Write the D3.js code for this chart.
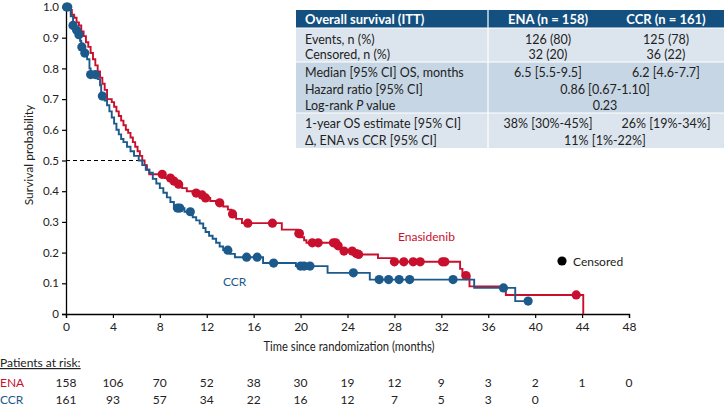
<!DOCTYPE html>
<html><head><meta charset="utf-8">
<script src="https://cdn.jsdelivr.net/npm/d3@7"></script>
<style>body{margin:0;background:#fff}svg{display:block}</style>
</head><body><svg id="c" width="724" height="408"></svg>
<script>
// ---- data ----
const enaSteps = [[0,1],[0.3,0.99],[0.5,0.975],[0.7,0.965],[0.9,0.95],[1.1,0.94],[1.3,0.92],[1.5,0.905],[1.7,0.885],[1.9,0.87],[2.1,0.85],[2.3,0.83],[2.5,0.81],[2.7,0.79],[2.9,0.77],[3.1,0.75],[3.3,0.73],[3.5,0.70],[3.9,0.69],[4.1,0.675],[4.3,0.66],[4.5,0.645],[4.7,0.63],[4.9,0.615],[5.1,0.60],[5.3,0.59],[5.5,0.575],[5.7,0.56],[5.9,0.545],[6.1,0.53],[6.3,0.515],[6.5,0.50],[6.7,0.485],[6.9,0.47],[7.1,0.455],[8.4,0.443],[9.0,0.433],[9.4,0.423],[9.9,0.41],[10.3,0.40],[10.8,0.394],[11.4,0.388],[11.8,0.378],[12.3,0.368],[12.8,0.362],[13.4,0.35],[13.8,0.34],[14.1,0.326],[14.5,0.31],[15.0,0.296],[18.4,0.275],[19.8,0.262],[20.0,0.25],[20.3,0.24],[20.5,0.232],[23.1,0.222],[23.3,0.213],[23.6,0.205],[24.7,0.197],[24.9,0.194],[26.6,0.182],[27.9,0.17],[33.6,0.147],[33.8,0.125],[34.4,0.09],[37.5,0.062],[44.1,0]];
const enaEnd = 44.1;
const enaCensor = [8.2,8.9,9.2,9.6,11.1,11.6,11.9,13.1,14.2,15.5,17.6,19.85,19.9,21.0,21.5,22.8,23.0,23.2,23.7,24.4,24.75,24.95,28.0,28.8,29.6,30.2,32.1,32.3,34.1,43.5];
const ccrSteps = [[0,1],[0.2,0.99],[0.4,0.97],[0.6,0.94],[0.8,0.925],[1.0,0.91],[1.2,0.89],[1.3,0.87],[1.5,0.85],[1.8,0.83],[2.0,0.80],[2.1,0.78],[2.7,0.765],[2.9,0.745],[3.0,0.71],[3.3,0.695],[3.5,0.68],[3.7,0.66],[3.9,0.64],[4.1,0.62],[4.3,0.60],[4.5,0.585],[4.7,0.57],[4.9,0.56],[5.2,0.545],[5.5,0.53],[5.8,0.515],[6.2,0.50],[6.5,0.485],[6.8,0.47],[7.1,0.46],[7.4,0.44],[7.7,0.425],[8.0,0.41],[8.3,0.395],[8.6,0.38],[8.9,0.365],[9.2,0.345],[10.1,0.333],[10.8,0.315],[11.1,0.305],[11.4,0.295],[11.7,0.28],[11.9,0.267],[12.2,0.255],[12.5,0.245],[12.8,0.232],[13.1,0.22],[13.4,0.208],[14.0,0.196],[14.4,0.185],[16.8,0.166],[19.6,0.156],[22.3,0.134],[25.9,0.112],[34.8,0.085],[38.3,0.042]];
const ccrEnd = 39.4;
const ccrCensor = [0.05,0.15,0.6,0.9,1.1,1.35,1.6,2.1,2.5,3.1,9.5,9.7,10.6,13.8,15.4,16.3,17.7,20.0,20.3,20.8,24.5,26.7,27.5,28.4,29.3,33.0,37.3,39.4];
const xTicks = [0,4,8,12,16,20,24,28,32,36,40,44,48];
const yTicks = [0,0.1,0.2,0.3,0.4,0.5,0.6,0.7,0.8,0.9,1.0];
const riskENA = [158,106,70,52,38,30,19,12,9,3,2,1,0];
const riskCCR = [161,93,57,34,22,16,12,7,5,3,0];
const tableHeader = ["Overall survival (ITT)","ENA (n = 158)","CCR (n = 161)"];
const tableRows = [
  {label:"Events, n (%)", ena:"126 (80)", ccr:"125 (78)", g:0},
  {label:"Censored, n (%)", ena:"32 (20)", ccr:"36 (22)", g:0},
  {label:"Median [95% CI] OS, months", ena:"6.5 [5.5-9.5]", ccr:"6.2 [4.6-7.7]", g:1},
  {label:"Hazard ratio [95% CI]", both:"0.86 [0.67-1.10]", g:1},
  {label:"Log-rank |P| value", both:"0.23", g:1},
  {label:"1-year OS estimate [95% CI]", ena:"38% [30%-45%]", ccr:"26% [19%-34%]", g:2},
  {label:"\u0394, ENA vs CCR [95% CI]", both:"11% [1%-22%]", g:2}
];
const medianENA = 6.5;

// ---- drawing ----
const RED = "#c8102e", BLUE = "#1d5a8c", FONT = "Lato, 'Open Sans', sans-serif";
const svg = d3.select("#c");
const x = d3.scaleLinear().domain([0,48]).range([66,629]);
const y = d3.scaleLinear().domain([0,1]).range([314,7]);

// axes
const gx = svg.append("g").attr("transform","translate(0,314)")
  .call(d3.axisBottom(x).tickValues(xTicks).tickSize(4).tickPadding(4).tickFormat(d3.format("d")));
const gy = svg.append("g").attr("transform","translate(66,0)")
  .call(d3.axisLeft(y).tickValues(yTicks).tickSize(4).tickPadding(3).tickFormat(d=> d===0?"0":d3.format(".1f")(d)));
[gx,gy].forEach(g=>{
  g.select(".domain").attr("stroke","#000").attr("stroke-width",1.3);
  g.selectAll(".tick line").attr("stroke","#000").attr("stroke-width",1.2);
  g.selectAll("text").attr("font-family",FONT).attr("font-size",11.5).attr("fill","#222");
});
gx.selectAll("text").attr("font-size",12);
svg.append("text").attr("transform","translate(33,155) rotate(-90)").attr("text-anchor","middle")
  .attr("font-family",FONT).attr("font-size",12).attr("fill","#222").text("Survival probability");
svg.append("text").attr("x",349).attr("y",351).attr("text-anchor","middle")
  .attr("font-family",FONT).attr("font-size",13).attr("fill","#222")
  .attr("textLength",171).attr("lengthAdjust","spacingAndGlyphs")
  .text("Time since randomization (months)");

// median dashed line
svg.append("line").attr("x1",x(0)).attr("x2",x(medianENA)).attr("y1",y(0.5)).attr("y2",y(0.5))
  .attr("stroke","#000").attr("stroke-width",1.2).attr("stroke-dasharray","4,3");

function stepValue(steps,t){let v=steps[0][1];for(const s of steps){if(s[0]<=t)v=s[1];}return v;}
const line = d3.line().x(d=>x(d[0])).y(d=>y(d[1])).curve(d3.curveStepAfter);
function drawArm(steps,end,censor,color){
  const pts = steps.slice();
  if(pts[pts.length-1][0] < end) pts.push([end, pts[pts.length-1][1]]);
  svg.append("path").datum(pts).attr("d",line).attr("fill","none").attr("stroke",color)
    .attr("stroke-width",1.9).attr("stroke-linejoin","miter");
  svg.append("g").selectAll("circle").data(censor).join("circle")
    .attr("cx",d=>x(d)).attr("cy",d=>y(stepValue(steps,d))).attr("r",4.6).attr("fill",color);
}
drawArm(enaSteps,enaEnd,enaCensor,RED);
drawArm(ccrSteps,ccrEnd,ccrCensor,BLUE);

// labels
svg.append("text").attr("x",398).attr("y",241).attr("font-family",FONT).attr("font-size",12).attr("fill",RED).text("Enasidenib");
svg.append("text").attr("x",223).attr("y",286).attr("font-family",FONT).attr("font-size",12).attr("fill",BLUE).text("CCR");
svg.append("circle").attr("cx",562).attr("cy",261).attr("r",4.6).attr("fill","#000");
svg.append("text").attr("x",573).attr("y",265.5).attr("font-family",FONT).attr("font-size",12).attr("fill","#222").text("Censored");

// table
const tx0=296, tx1=724, colSplit=488, enaC=548, ccrC=666, bothC=605;
const hdrTop=10, hdrBot=28;
const groups=[[28,62],[62,113],[113,148]];
const gFill=["#dce5ee","#c7d6e4","#dce5ee"];
svg.append("rect").attr("x",tx0).attr("y",hdrTop).attr("width",tx1-tx0).attr("height",hdrBot-hdrTop).attr("fill","#13507f");
groups.forEach((g,i)=>svg.append("rect").attr("x",tx0).attr("y",g[0]).attr("width",tx1-tx0).attr("height",g[1]-g[0]).attr("fill",gFill[i]));
groups.forEach(g=>svg.append("line").attr("x1",tx0).attr("x2",tx1).attr("y1",g[0]).attr("y2",g[0]).attr("stroke","#fff").attr("stroke-width",1.2));
svg.append("line").attr("x1",colSplit).attr("x2",colSplit).attr("y1",hdrTop).attr("y2",148).attr("stroke","#fff").attr("stroke-width",1.2);
const hdr = svg.append("g").attr("font-family",FONT).attr("font-size",13).attr("font-weight","bold").attr("fill","#fff");
hdr.append("text").attr("x",305).attr("y",23.5).text(tableHeader[0]);
hdr.append("text").attr("x",enaC).attr("y",23.5).attr("text-anchor","middle").text(tableHeader[1]);
hdr.append("text").attr("x",ccrC).attr("y",23.5).attr("text-anchor","middle").text(tableHeader[2]);
const rowY=[39,54,72,89,105,123,140];
const tb = svg.append("g").attr("font-family",FONT).attr("font-size",12.5).attr("fill","#222");
tableRows.forEach((r,i)=>{
  const yy=rowY[i]+4.5;
  const t=tb.append("text").attr("x",305).attr("y",yy);
  r.label.split("|").forEach((part,k)=>t.append("tspan").attr("font-style",k===1?"italic":null).text(part));
  if(r.both) tb.append("text").attr("x",bothC).attr("y",yy).attr("text-anchor","middle").text(r.both);
  else {
    tb.append("text").attr("x",enaC).attr("y",yy).attr("text-anchor","middle").text(r.ena);
    tb.append("text").attr("x",ccrC).attr("y",yy).attr("text-anchor","middle").text(r.ccr);
  }
});

// risk table
const rk = svg.append("g").attr("font-family",FONT).attr("font-size",12).attr("fill","#222");
rk.append("text").attr("x",0).attr("y",367).attr("text-decoration","underline").text("Patients at risk:");
rk.append("text").attr("x",0).attr("y",387).attr("fill",RED).text("ENA");
rk.append("text").attr("x",0).attr("y",404).attr("fill",BLUE).text("CCR");
rk.selectAll(".re").data(riskENA).join("text").attr("class","re").attr("x",(d,i)=>x(xTicks[i])).attr("y",387).attr("text-anchor","middle").text(d=>d);
rk.selectAll(".rc").data(riskCCR).join("text").attr("class","rc").attr("x",(d,i)=>x(xTicks[i])).attr("y",404).attr("text-anchor","middle").text(d=>d);
</script></body></html>
